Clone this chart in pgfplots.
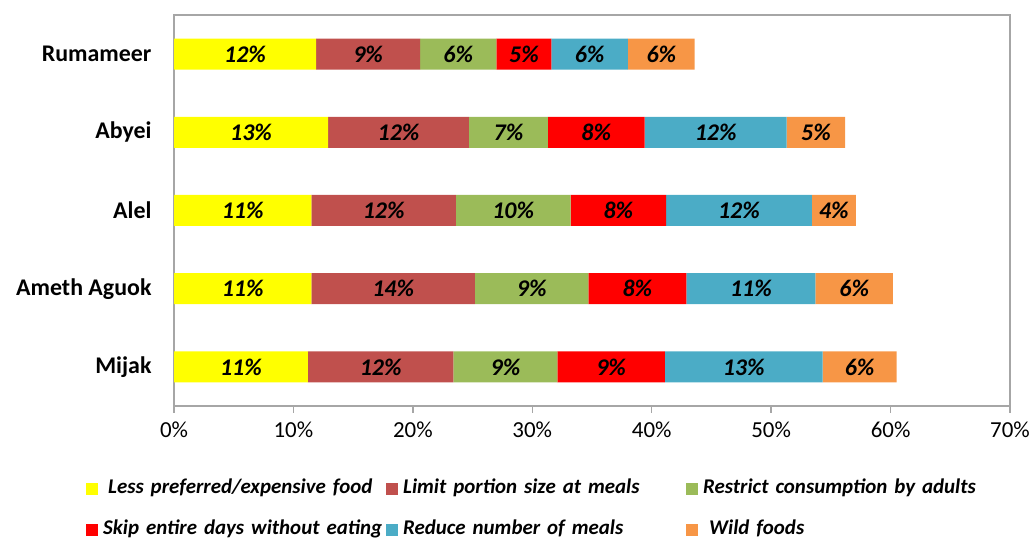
\documentclass[border=0pt]{standalone}
\usepackage{pgfplots}
\pgfplotsset{compat=1.18}
\usepackage{pgfplotstable}
\usepackage{fontspec}
\setmainfont{Carlito}

\definecolor{cyel}{HTML}{FFFF00}
\definecolor{cbrn}{HTML}{C0504D}
\definecolor{cgrn}{HTML}{9BBB59}
\definecolor{cred}{HTML}{FF0000}
\definecolor{cblu}{HTML}{4BACC6}
\definecolor{corg}{HTML}{F79646}
\definecolor{cframe}{HTML}{A6A6A6}

% y: 0 Mijak, 1 Ameth Aguok, 2 Alel, 3 Abyei, 4 Rumameer
\pgfplotstableread{
y  a     la  b     lb  c    lc  d    ld  e     le  f    lf
0  11.2  11  12.2  12  8.7  9   9.0  9   13.2  13  6.2  6
1  11.5  11  13.7  14  9.5  9   8.2  8   10.8  11  6.5  6
2  11.5  11  12.1  12  9.6  10  8.0  8   12.2  12  3.7  4
3  12.9  13  11.8  12  6.6  7   8.1  8   11.9  12  4.9  5
4  11.9  12  8.7   9   6.4  6   4.6  5   6.4   6   5.6  6
}\data

\begin{document}
\begin{tikzpicture}[x=1bp,y=1bp]
\path[use as bounding box] (0,0) rectangle (1031,538);
\begin{axis}[
  at={(174bp,132bp)}, anchor=south west,
  scale only axis, width=836bp, height=391bp,
  xbar stacked, bar width=31bp,
  xmin=0, xmax=70, ymin=-0.5, ymax=4.5,
  xtick={0,10,...,70},
  xticklabel={\pgfmathprintnumber{\tick}\%},
  /pgf/number format/assume math mode=true,
  ytick={0,...,4},
  yticklabels={Mijak, Ameth Aguok, Alel, Abyei, Rumameer},
  axis line style={cframe, line width=1.5bp},
  xtick style={cframe, line width=1.5bp},
  xtick pos=bottom, tick align=outside, major tick length=7bp,
  ytick style={draw=none},
  xticklabel style={font=\fontsize{23}{27}\selectfont, yshift=-5bp},
  yticklabel style={font=\fontsize{24}{28}\selectfont\bfseries, xshift=-12bp},
  point meta=explicit symbolic,
  nodes near coords={\pgfplotspointmeta\%},
  every node near coord/.append style={font=\fontsize{24}{28}\selectfont\bfseries\itshape, black},
  legend image code/.code={\fill[#1] (0bp,-6bp) rectangle (12bp,6bp);},
  legend style={at={(axis description cs:-0.1053,-0.192)}, anchor=north west,
    draw=none, fill=none, inner sep=0pt, row sep=25bp,
    nodes={inner sep=0pt, anchor=west, text width=283bp, text height=12bp, text depth=4bp,
      font=\fontsize{21}{25}\selectfont\bfseries\itshape},
    /tikz/every odd column/.style={column sep=5bp}},
  legend columns=3, legend cell align=left,
]
\addplot[fill=cyel, draw=none] table[x=a, y=y, meta=la] {\data};
\addplot[fill=cbrn, draw=none] table[x=b, y=y, meta=lb] {\data};
\addplot[fill=cgrn, draw=none] table[x=c, y=y, meta=lc] {\data};
\addplot[fill=cred, draw=none] table[x=d, y=y, meta=ld] {\data};
\addplot[fill=cblu, draw=none] table[x=e, y=y, meta=le] {\data};
\addplot[fill=corg, draw=none] table[x=f, y=y, meta=lf] {\data};
\legend{\hspace{5bp}Less preferred/expensive food, Limit portion size at meals, Restrict consumption by adults,
  Skip entire days without eating, Reduce number of meals, \hspace{6bp}Wild foods}
\end{axis}
\end{tikzpicture}
\end{document}
